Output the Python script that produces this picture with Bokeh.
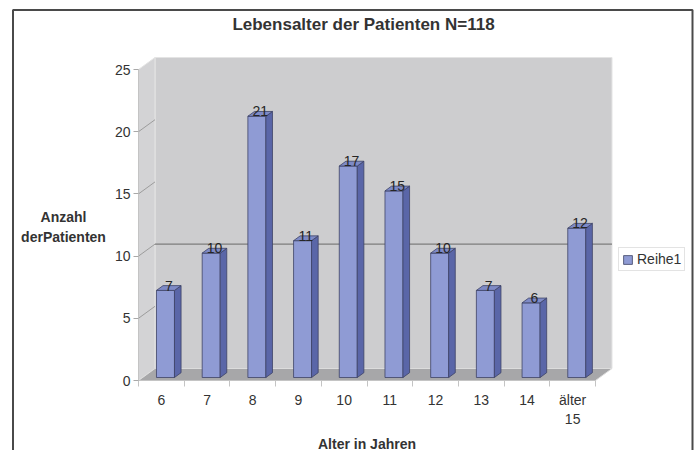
from bokeh.plotting import figure
from bokeh.models import Range1d, FixedTicker, Legend, LegendItem
from bokeh.core.properties import value
from bokeh.embed import file_html
from bokeh.resources import INLINE

# ---- chart content -------------------------------------------------------
title_text = "Lebensalter der Patienten N=118"
categories = ["6", "7", "8", "9", "10", "11", "12", "13", "14", "älter\n15"]
counts = [7, 10, 21, 11, 17, 15, 10, 7, 6, 12]
y_ticks = [0, 5, 10, 15, 20, 25]
series_name = "Reihe1"
x_title = "Alter in Jahren"
y_title_lines = ["Anzahl", "derPatienten"]
marked_gridline = 10

# ---- geometry --------------------------------------------------------------
FONT = "Liberation Sans"
W, H = 699, 450
ORIGIN_X, ORIGIN_Y = 138, 380   # canvas pixel of the (0, 0) corner of the front plane
PX_X = 45.7                      # pixels per category
PX_Y = 12.44                     # pixels per count

# depth of the pseudo-3D box, expressed in data units
DEPTH_DX = 16.5 / PX_X
DEPTH_DY = 12.0 / PX_Y
BAR_FRONT = 0.25     # where the bar front sits inside the box depth
BAR_DEPTH = 0.40     # bar depth as a share of the box depth
HALF_W = 9.0 / PX_X

n = len(categories)
y_top = max(y_ticks)


def dx(px):
    """canvas x pixel -> data x"""
    return (px - ORIGIN_X) / PX_X


def dy(py):
    """canvas y pixel -> data y"""
    return (ORIGIN_Y - py) / PX_Y


# the plot frame spans the whole canvas; the axes are pinned at x=0 / y=0
p = figure(width=W, height=H, output_backend="svg", toolbar_location=None,
           x_range=Range1d(dx(0), dx(W)), y_range=Range1d(dy(H), dy(0)),
           min_border=0)
p.outline_line_color = None
p.grid.visible = False
p.background_fill_color = "white"
p.border_fill_color = "white"

# ---- outer chart border -------------------------------------------------------
p.line(x=[dx(12.5), dx(12.5), dx(692), dx(692)], y=[dy(470), dy(9.5), dy(9.5), dy(470)],
       line_color="#4a4a4a", line_width=2)

# ---- walls and floor ---------------------------------------------------------
p.patch([DEPTH_DX, n + DEPTH_DX, n + DEPTH_DX, DEPTH_DX],
        [DEPTH_DY, DEPTH_DY, y_top + DEPTH_DY, y_top + DEPTH_DY],
        fill_color="#cdcdcf", line_color="#e4e4e4", line_width=1)
p.patch([0, DEPTH_DX, DEPTH_DX, 0],
        [0, DEPTH_DY, y_top + DEPTH_DY, y_top],
        fill_color="#d3d3d5", line_color="#e4e4e4", line_width=1)
p.patch([0, n, n + DEPTH_DX, DEPTH_DX],
        [0, 0, DEPTH_DY, DEPTH_DY],
        fill_color="#a7a7a9", line_color="#dcdcdc", line_width=1)

# gridline stubs on the side wall and the one gridline across the back wall
stub_levels = [t for t in y_ticks if 0 < t < y_top]
p.segment(x0=[0] * len(stub_levels), y0=stub_levels,
          x1=[DEPTH_DX] * len(stub_levels), y1=[t + DEPTH_DY for t in stub_levels],
          line_color="#9c9c9c", line_width=1)
p.segment(x0=[DEPTH_DX], y0=[marked_gridline + DEPTH_DY],
          x1=[n + DEPTH_DX], y1=[marked_gridline + DEPTH_DY],
          line_color="#7c7c7c", line_width=1.2)

# ---- bars ----------------------------------------------------------------------
fx = BAR_FRONT * DEPTH_DX
fy = BAR_FRONT * DEPTH_DY
bdx = BAR_DEPTH * DEPTH_DX
bdy = BAR_DEPTH * DEPTH_DY

centers = [i + 0.5 + fx for i in range(n)]
lefts = [c - HALF_W for c in centers]
rights = [c + HALF_W for c in centers]
tops = [v + fy for v in counts]

side_xs = [[r, r + bdx, r + bdx, r] for r in rights]
side_ys = [[fy, fy + bdy, t + bdy, t] for t in tops]
top_xs = [[l, r, r + bdx, l + bdx] for l, r in zip(lefts, rights)]
top_ys = [[t, t, t + bdy, t + bdy] for t in tops]

front = p.quad(left=lefts, right=rights, bottom=[fy] * n, top=tops,
               fill_color="#8f9bd4", line_color="#3e4266", line_width=0.8)
p.patches(side_xs, side_ys, fill_color="#5a66a8", line_color="#3e4266", line_width=0.8)
p.patches(top_xs, top_ys, fill_color="#7e8ac6", line_color="#3e4266", line_width=0.8)

# value labels sitting on the bar tops
p.text(x=[c + bdx / 2 for c in centers], y=[t + bdy for t in tops],
       text=[str(v) for v in counts], text_align="center", text_baseline="middle",
       text_font=value(FONT), text_font_size="14px", text_color="#262626")

# ---- axes ------------------------------------------------------------------------
xa = p.xaxis[0]
xa.fixed_location = 0
xa.ticker = FixedTicker(ticks=[i + 0.5 for i in range(n)], minor_ticks=list(range(n + 1)))
xa.major_label_overrides = {i + 0.5: categories[i] for i in range(n)}
xa.bounds = (0, n)
xa.axis_line_color = "#c4c4c4"
xa.major_tick_out = 0
xa.major_tick_in = 0
xa.minor_tick_out = 6
xa.minor_tick_in = 0
xa.minor_tick_line_color = "#c4c4c4"
xa.major_label_standoff = 5
xa.major_label_text_font = FONT
xa.major_label_text_font_size = "14px"
xa.major_label_text_color = "#333333"

ya = p.yaxis[0]
ya.fixed_location = 0
ya.ticker = FixedTicker(ticks=y_ticks, minor_ticks=[])
ya.bounds = (0, y_top)
ya.axis_line_color = "#c4c4c4"
ya.major_tick_out = 5
ya.major_tick_in = 0
ya.major_tick_line_color = "#a8a8a8"
ya.minor_tick_line_color = None
ya.major_label_standoff = 3
ya.major_label_text_font = FONT
ya.major_label_text_font_size = "14px"
ya.major_label_text_color = "#333333"

# ---- titles ------------------------------------------------------------------------
p.text(x=[dx(363)], y=[dy(24)], text=[title_text], text_align="center",
       text_baseline="middle", text_font=value(FONT), text_font_size="17px",
       text_font_style="bold", text_color="#333333")
p.text(x=[n / 2], y=[dy(443)], text=[x_title], text_align="center",
       text_baseline="middle", text_font=value(FONT), text_font_size="14px",
       text_font_style="bold", text_color="#333333")
p.text(x=[dx(63)] * len(y_title_lines),
       y=[dy(216 + 20 * k) for k in range(len(y_title_lines))],
       text=y_title_lines, text_align="center", text_baseline="middle",
       text_font=value(FONT), text_font_size="14px", text_font_style="bold",
       text_color="#333333")

# ---- legend ------------------------------------------------------------------------
legend = Legend(items=[LegendItem(label=series_name, renderers=[front])],
                location=(618, H - 271), margin=0, padding=3, spacing=0,
                glyph_width=11, glyph_height=11, label_height=16, label_standoff=4,
                label_text_font=FONT, label_text_font_size="14px",
                label_text_color="#333333", border_line_color="#c8c8c8",
                background_fill_color="white")
p.add_layout(legend)

open("out.html", "w").write(file_html(p, INLINE))
